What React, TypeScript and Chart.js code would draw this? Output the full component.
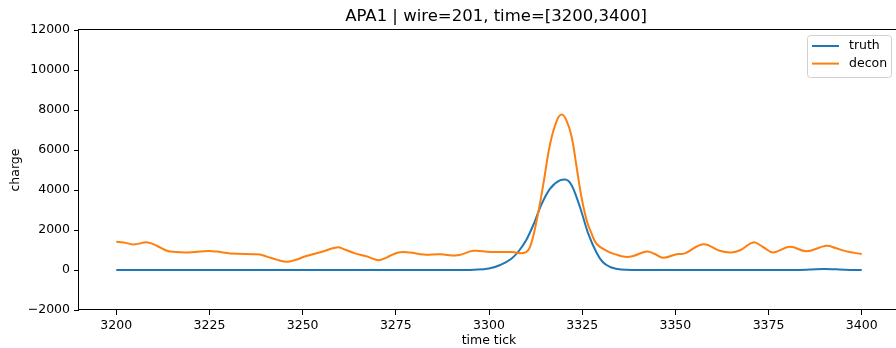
import React, { useEffect, useRef } from 'react';
import { Chart, registerables } from 'chart.js';

Chart.register(...registerables);

const titleText = 'APA1 | wire=201, time=[3200,3400]';
const xLabel = 'time tick';
const yLabel = 'charge';
const seriesNames = ['truth', 'decon'];

const xTicks = [3200, 3225, 3250, 3275, 3300, 3325, 3350, 3375, 3400];
const yTicks = [-2000, 0, 2000, 4000, 6000, 8000, 10000, 12000];

const truthTicks = [3200, 3290, 3296, 3300, 3303, 3306, 3308, 3310, 3312, 3314, 3316.4, 3319, 3320.4, 3322.2, 3324.4, 3326.6, 3328.9, 3330.5, 3332.5, 3334.5, 3337, 3340, 3382, 3386, 3390, 3394, 3398, 3400];
const truthCharge = [0, 0, 15, 70, 250, 560, 950, 1500, 2300, 3250, 4070, 4480, 4520, 4230, 3150, 1830, 850, 400, 150, 50, 10, 0, 0, 20, 50, 30, 0, 0];

const deconTicks = [3200, 3202, 3204.6, 3208.4, 3211, 3213.6, 3216, 3219, 3224.7, 3227, 3230.6, 3236.8, 3238.5, 3240.4, 3243, 3245.8, 3248, 3251, 3255, 3259.2, 3261.5, 3264, 3267.2, 3270.3, 3272.5, 3275.7, 3278.8, 3282.4, 3286.9, 3290.9, 3292.5, 3295.8, 3300.3, 3306.1, 3309.5, 3311, 3312.8, 3314.6, 3316.4, 3318.2, 3319.5, 3320.8, 3322.2, 3323.5, 3324.8, 3326.2, 3327.5, 3328.9, 3331.6, 3334, 3336.5, 3338.7, 3342.3, 3344.5, 3346.7, 3350.3, 3352.5, 3357.5, 3361.9, 3365, 3367.5, 3370.9, 3373.5, 3376.2, 3380.7, 3385.2, 3390.5, 3393, 3395.9, 3400];
const deconCharge = [1410, 1380, 1280, 1380, 1200, 960, 900, 880, 950, 920, 830, 790, 780, 670, 520, 410, 500, 700, 900, 1130, 1010, 830, 680, 490, 620, 880, 870, 770, 790, 720, 770, 960, 900, 900, 860, 1160, 2490, 4320, 6310, 7470, 7770, 7470, 6640, 5150, 3650, 2490, 1830, 1300, 960, 780, 660, 700, 930, 800, 610, 790, 830, 1290, 960, 880, 1000, 1380, 1150, 880, 1160, 940, 1210, 1100, 930, 800];

const xMin = 3190;
const xMax = 3410;
const yMin = -2000;
const yMax = 12000;

const FONT = '"DejaVu Sans", sans-serif';
const truthColor = '#1f77b4';
const deconColor = '#ff7f0e';

const fmt = (v: number) => (v < 0 ? '\u2212' + Math.abs(v) : String(v));

const decorPlugin = {
  id: 'decor',
  afterDraw(chart: any) {
    const { ctx, chartArea: a } = chart;
    ctx.save();
    // frame
    ctx.strokeStyle = '#000';
    ctx.lineWidth = 1;
    const l = Math.round(a.left) - 0.5;
    const t = Math.round(a.top) - 0.5;
    const r = Math.round(a.right) + 0.5;
    const b = Math.round(a.bottom) - 0.5;
    ctx.strokeRect(l, t, r - l, b - t);
    // title
    ctx.fillStyle = '#000';
    ctx.textAlign = 'center';
    ctx.textBaseline = 'middle';
    ctx.font = `16.5px ${FONT}`;
    ctx.fillText(titleText, (a.left + a.right) / 2 + 7, 17);
    // axis labels
    ctx.font = `12.5px ${FONT}`;
    ctx.fillText(xLabel, (a.left + a.right) / 2, 341);
    ctx.save();
    ctx.translate(16, (a.top + a.bottom) / 2);
    ctx.rotate(-Math.PI / 2);
    ctx.fillText(yLabel, 0, 0);
    ctx.restore();
    // legend
    const bx = a.right - 92;
    const by = a.top + 5;
    const bw = 84;
    const bh = 42;
    ctx.beginPath();
    ctx.roundRect(bx + 0.5, by + 0.5, bw, bh, 3);
    ctx.fillStyle = 'rgba(255,255,255,0.8)';
    ctx.fill();
    ctx.strokeStyle = '#d0d0d0';
    ctx.lineWidth = 1;
    ctx.stroke();
    const colors = [truthColor, deconColor];
    seriesNames.forEach((name, i) => {
      const y = by + 11 + i * 17.6;
      ctx.beginPath();
      ctx.moveTo(bx + 5, y);
      ctx.lineTo(bx + 32, y);
      ctx.strokeStyle = colors[i];
      ctx.lineWidth = 2;
      ctx.stroke();
      ctx.fillStyle = '#000';
      ctx.textAlign = 'left';
      ctx.textBaseline = 'middle';
      ctx.font = `12.5px ${FONT}`;
      ctx.fillText(name, bx + 42, y);
    });
    ctx.restore();
  },
};

export default function App() {
  const ref = useRef<HTMLCanvasElement>(null);
  useEffect(() => {
    const canvas = ref.current!;
    const chart = new Chart(canvas, {
      type: 'line',
      data: {
        datasets: [
          {
            label: seriesNames[0],
            data: truthTicks.map((x, i) => ({ x, y: truthCharge[i] })),
            borderColor: truthColor,
            borderWidth: 2,
            pointRadius: 0,
            fill: false,
            cubicInterpolationMode: 'monotone',
            order: 1,
          },
          {
            label: seriesNames[1],
            data: deconTicks.map((x, i) => ({ x, y: deconCharge[i] })),
            borderColor: deconColor,
            borderWidth: 2,
            pointRadius: 0,
            fill: false,
            tension: 0.4,
            order: 0,
          },
        ],
      },
      options: {
        responsive: false,
        animation: false,
        devicePixelRatio: 1,
        layout: { padding: { left: 0, right: 11, top: 30, bottom: 0 } },
        plugins: { legend: { display: false }, title: { display: false }, tooltip: { enabled: false } },
        scales: {
          x: {
            type: 'linear',
            min: xMin,
            max: xMax,
            afterBuildTicks: (s: any) => {
              s.ticks = xTicks.map((v) => ({ value: v }));
            },
            afterFit: (s: any) => {
              s.height = 38;
            },
            ticks: {
              color: '#000',
              font: { family: FONT, size: 12.5 },
              padding: 3,
              maxRotation: 0,
              autoSkip: false,
              callback: (v: any) => fmt(Number(v)),
            },
            grid: { drawOnChartArea: false, tickLength: 5, tickColor: '#000', tickWidth: 1 },
            border: { display: false },
          },
          y: {
            type: 'linear',
            min: yMin,
            max: yMax,
            afterBuildTicks: (s: any) => {
              s.ticks = yTicks.map((v) => ({ value: v }));
            },
            afterFit: (s: any) => {
              s.width = 79;
            },
            ticks: {
              color: '#000',
              font: { family: FONT, size: 12.5 },
              padding: 4,
              autoSkip: false,
              callback: (v: any) => fmt(Number(v)),
            },
            grid: { drawOnChartArea: false, tickLength: 5, tickColor: '#000', tickWidth: 1 },
            border: { display: false },
          },
        },
      },
      plugins: [decorPlugin],
    } as any);
    return () => chart.destroy();
  }, []);
  return (
    <div style={{ position: 'fixed', left: 0, top: 0, width: 896, height: 348, overflow: 'hidden', background: '#fff' }}>
      <canvas ref={ref} width={910} height={348} style={{ display: 'block', width: 910, height: 348 }} />
    </div>
  );
}
